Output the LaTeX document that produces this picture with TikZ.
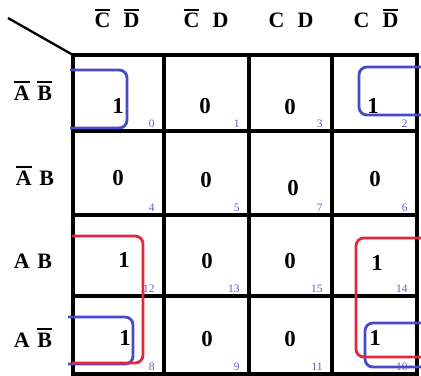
\documentclass[tikz,border=0pt]{standalone}
\usepackage{fontspec}
\setmainfont{Liberation Serif}
\usetikzlibrary{positioning}
\definecolor{loopblue}{RGB}{70,75,200}
\definecolor{loopred}{RGB}{225,40,60}
\definecolor{idxblue}{RGB}{95,95,195}
% thick bar over a single letter
\newcommand{\nb}[1]{\leavevmode\vbox{\hrule height 1.1pt\kern1.3pt\hbox{#1}}}

\begin{document}
\begin{tikzpicture}[x=0.02cm, y=-0.02cm]
  \tikzset{
    gridline/.style={black, line width=1.9pt},
    varlabel/.style={font=\bfseries\fontsize{12.5}{14}\selectfont, anchor=base, inner sep=0pt},
    cellval/.style={font=\bfseries\fontsize{13}{15}\selectfont, anchor=base, inner sep=0pt},
    cellidx/.style={font=\fontsize{6.5}{7}\selectfont, text=idxblue, anchor=south east, inner sep=0pt},
    bluegroup/.style={draw=loopblue, line width=1.6pt, rounded corners=4.5pt},
    redgroup/.style={draw=loopred, line width=1.6pt, rounded corners=4.5pt},
  }
  \useasboundingbox (0,0) rectangle (421,375);

  %% ===== Grid =====
  \draw[gridline] (73,55) rectangle (417,374);
  \foreach \x in {164,249,332} \draw[gridline] (\x,55) -- (\x,374);
  \foreach \y in {131,215,296} \draw[gridline] (73,\y) -- (417,\y);
  \coordinate (corner) at (8,18);
  \draw[gridline, line width=1.3pt] (corner) -- (73,55);

  %% ===== Column and row variables =====
  \node[varlabel] (h0) at (117,28) {\nb{C}\hspace{0.6em}\nb{D}};
  \node[varlabel] (h1) at (206,28) {\nb{C}\hspace{0.6em}D};
  \node[varlabel] (h2) at (291,28) {C\hspace{0.6em}D};
  \node[varlabel] (h3) at (376,28) {C\hspace{0.6em}\nb{D}};
  \node[varlabel] (r0) at (33,100) {\nb{A}\hspace{0.35em}\nb{B}};
  \node[varlabel] (r1) at (35,185) {\nb{A}\hspace{0.35em}B};
  \node[varlabel] (r2) at (33,268) {A\hspace{0.35em}B};
  \node[varlabel] (r3) at (33,347) {A\hspace{0.35em}\nb{B}};

  %% ===== Cell values: name / x / baseline / value / index corner =====
  \foreach \i/\cx/\cy/\v/\xr/\yb in {
      0/118/113/1/164/131, 1/205/113/0/249/131, 3/290/114/0/332/131, 2/373/113/1/417/131,
      4/118/185/0/164/215, 5/206/187/0/249/215, 7/293/195/0/332/215, 6/375/186/0/417/215,
      12/124/267/1/164/296, 13/207/268/0/249/296, 15/290/268/0/332/296, 14/377/270/1/417/296,
      8/125/345/1/164/374, 9/207/346/0/249/374, 11/290/346/0/332/374, 10/375/345/1/417/374} {
    \node[cellval] (m\i) at (\cx,\cy) {\v};
    \node[cellidx] (i\i) at (\xr-9,\yb-3) {\i};
  }

  %% ===== Groups =====
  \draw[bluegroup] (70,70) -- (127,70) -- (127,128) -- (70,128);
  \draw[bluegroup] (425,67) -- (359,67) -- (359,115) -- (425,115);
  \draw[bluegroup] (68,317) -- (133,317) -- (133,364) -- (68,364);
  \draw[bluegroup] (425,323) -- (365,323) -- (365,367) -- (425,367);
  \draw[redgroup] (72,236) -- (143,236) -- (143,363) -- (72,363);
  \draw[redgroup] (425,238) -- (356,238) -- (356,357) -- (425,357);
\end{tikzpicture}
\end{document}
